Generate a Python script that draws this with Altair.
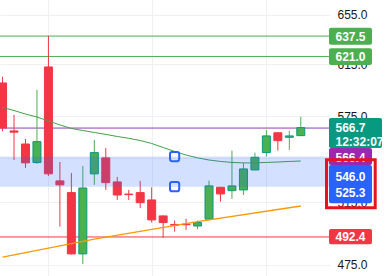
import altair as alt
import pandas as pd

# ---- data ----
idx = list(range(27))
opens = [600.2, 564.3, 554.9, 541.8, 612.7, 529.2, 521.3, 481.8, 534.0, 545.1,
         528.5, 520.3, 521.3, 516.4, 505.9, 500.4, 500.6, 499.4, 503.8, 524.9,
         522.6, 523.1, 536.7, 548.8, 563.0, 559.7, 560.9]
highs = [605.0, 576.0, 558.5, 594.8, 637.6, 542.2, 534.6, 539.5, 557.8, 552.1,
         531.9, 523.1, 529.2, 524.9, 506.2, 502.9, 504.1, 502.9, 529.4, 525.1,
         550.2, 541.6, 548.8, 565.0, 563.2, 564.5, 574.7]
lows = [564.0, 543.6, 538.1, 541.0, 532.6, 499.0, 481.5, 475.6, 526.5, 523.1,
        516.4, 516.4, 511.1, 501.6, 491.8, 495.8, 496.9, 497.3, 503.6, 515.3,
        517.1, 519.7, 536.5, 546.0, 550.2, 550.7, 560.7]
closes = [566.4, 563.4, 541.6, 556.6, 534.0, 526.5, 481.8, 524.4, 548.8, 528.0,
          519.7, 519.9, 514.6, 503.3, 501.6, 499.9, 500.2, 501.6, 525.8, 520.4,
          525.8, 537.4, 545.5, 560.7, 557.3, 560.7, 566.7]
ma_fast = [581.6, 579.3, 576.7, 574.5, 571.6, 568.7, 566.1, 564.6, 563.2, 561.8,
           560.3, 559.0, 557.4, 555.3, 552.4, 549.6, 547.1, 545.1, 543.6, 542.6,
           541.9, 541.6, 541.6, 541.9, 542.2, 542.6, 542.9]
ma_slow_idx = [0, 8, 17, 26]
ma_slow = [479.8, 491.0, 502.2, 512.4]
green_levels = [637.5, 621.0]
red_levels = [492.4]
purple_levels = [566.4]
zone_low, zone_high = 525.3, 546.0
anchor_idx = 15
grid_idx = [4, 13, 23]
tick_vals = [475, 515, 545, 575, 615, 655]
last_price = 566.7
countdown = "12:32:07"

GREEN = "#089981"
RED = "#f23645"
FONT = "Liberation Sans"

candles = pd.DataFrame({"i": idx, "open": opens, "high": highs,
                        "low": lows, "close": closes})
candles["dir"] = ["up" if c >= o else "down" for o, c in zip(opens, closes)]

fast = pd.DataFrame({"i": idx, "v": ma_fast})
slow = pd.DataFrame({"i": ma_slow_idx, "v": ma_slow})

xscale = alt.Scale(domain=[0.214, 28.11], nice=False, zero=False)
xaxis = alt.Axis(values=grid_idx, grid=True, labels=False, ticks=False,
                 domain=False, title=None, gridColor="#eef0f4", gridWidth=1)
yscale = alt.Scale(type="log", domain=[468.3, 667.75], nice=False, zero=False)
yaxis = alt.Axis(orient="right", values=tick_vals, format=".1f", title=None,
                 grid=True, gridColor="#eef0f4", ticks=False, tickSize=0,
                 domain=False, labelPadding=7, labelFont=FONT, labelFontSize=12,
                 labelColor="#131722", zindex=0)


def X(f):
    return alt.X(f, type="quantitative", scale=xscale, axis=xaxis)


def Y(f):
    return alt.Y(f, type="quantitative", scale=yscale, axis=yaxis)


color = alt.Color("dir:N", scale=alt.Scale(domain=["up", "down"], range=[GREEN, RED]),
                  legend=None)

levels = pd.DataFrame({"p": green_levels + red_levels + purple_levels,
                       "kind": ["g"] * len(green_levels) + ["r"] * len(red_levels)
                       + ["p"] * len(purple_levels)})
level_rules = alt.Chart(levels).mark_rule(strokeWidth=1).encode(
    y=Y("p"),
    color=alt.Color("kind:N", scale=alt.Scale(domain=["g", "r", "p"],
                    range=["#4caf50", "#f23645", "#8e3fb0"]), legend=None),
)

wicks = alt.Chart(candles).mark_rule(strokeWidth=1, clip=True).encode(
    x=X("i"), y=Y("low"), y2="high", color=color)
bodies = alt.Chart(candles).mark_bar(size=8, strokeWidth=1, clip=True).encode(
    x=X("i"), y=Y("open"), y2="close", color=color, stroke=color)

fast_line = alt.Chart(fast).mark_line(color="#43a047", strokeWidth=1, clip=True).encode(
    x=X("i"), y=Y("v"))
slow_line = alt.Chart(slow).mark_line(color="#ff9800", strokeWidth=1.3, clip=True).encode(
    x=X("i"), y=Y("v"))

zone = pd.DataFrame({"lo": [zone_low], "hi": [zone_high]})
band = alt.Chart(zone).mark_rect(color="#2962ff", opacity=0.2).encode(
    x=alt.value(0), x2=alt.value(330), y=Y("lo"), y2="hi")

anchors = pd.DataFrame({"i": [anchor_idx, anchor_idx], "p": [zone_high, zone_low]})
rsq = ("M -0.55,-1 L 0.55,-1 Q 1,-1 1,-0.55 L 1,0.55 Q 1,1 0.55,1 L -0.55,1 "
       "Q -1,1 -1,0.55 L -1,-0.55 Q -1,-1 -0.55,-1 Z")
anchor_pts = alt.Chart(anchors).mark_point(shape=rsq, size=85, filled=False,
                                           strokeWidth=2, color="#2962ff", opacity=1).encode(
    x=X("i"), y=Y("p"))

# ---- price-scale labels ----
layers = [level_rules, wicks, bodies, fast_line, slow_line, band, anchor_pts]


def box(price, fill, top, bottom, right=372):
    d = pd.DataFrame({"p": [price]})
    return alt.Chart(d).mark_rect(color=fill, yOffset=top, y2Offset=bottom,
                                  cornerRadius=2, clip=False).encode(
        x=alt.value(329), x2=alt.value(right), y=Y("p"), y2="p")


def label(price, text, dy):
    d = pd.DataFrame({"p": [price], "t": [text]})
    return alt.Chart(d).mark_text(color="white", font=FONT, fontSize=12,
                                  fontWeight="bold", align="left", baseline="middle",
                                  yOffset=dy, clip=False).encode(
        x=alt.value(335.5), y=Y("p"), text="t:N")


for p in green_levels:
    layers += [box(p, "#4caf50", -8.2, 8.6), label(p, f"{p:.1f}", 0.5)]
for p in red_levels:
    layers += [box(p, RED, -8, 7.3), label(p, f"{p:.1f}", 0.2)]
for p in purple_levels:
    layers += [box(p, "#9c27b0", 19.9, 36.9), label(p, f"{p:.1f}", 30.3)]
layers += [box(last_price, GREEN, -9.7, 20.3, right=382),
           label(last_price, f"{last_price:.1f}", 0.6),
           label(last_price, countdown, 14.0)]

blue_d = pd.DataFrame({"hi": [zone_high], "lo": [zone_low]})
layers.append(alt.Chart(blue_d).mark_rect(color="#2962ff", yOffset=8.4, y2Offset=16.6,
                                          cornerRadius=2, clip=False).encode(
    x=alt.value(329), x2=alt.value(372), y=Y("hi"), y2="lo"))
layers += [label(zone_high, f"{zone_high:.1f}", 20.1),
           label(zone_low, f"{zone_low:.1f}", 6.6)]
layers.append(alt.Chart(blue_d).mark_rect(filled=False, stroke="#e8141c", strokeWidth=3,
                                          yOffset=3.2, y2Offset=21.1, clip=False).encode(
    x=alt.value(326.5), x2=alt.value(375.2), y=Y("hi"), y2="lo"))

chart = alt.layer(*layers).properties(
    width=330, height=276,
    autosize=alt.AutoSizeParams(type="none"),
    padding={"left": 0, "top": 0, "right": 62, "bottom": 0},
    background="white",
).configure_view(strokeWidth=0)

chart.save("out.html", embed_options={"renderer": "svg", "actions": False})
